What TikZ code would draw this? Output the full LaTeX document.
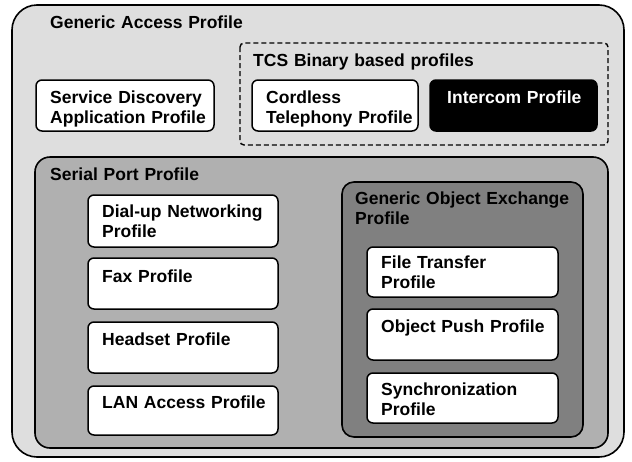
\documentclass[tikz,border=0pt]{standalone}
\usepackage{fontspec}
\setmainfont{Liberation Sans}
\begin{document}
\begin{tikzpicture}[x=1pt, y=-1pt,
    lbl/.style={anchor=base west, inner sep=0pt, text width=230pt, align=left,
      font=\fontsize{17.5}{20}\selectfont\bfseries},
    group/.style={draw, line width=1.6pt, fill=#1},
    prof/.style={draw, line width=1.5pt, rounded corners=6pt, fill=white}]
  \useasboundingbox (0,0) rectangle (632,461);

  \draw [group=black!13, rounded corners=25pt] (12, 5) rectangle (624, 457);
  \node [lbl] (gap) at (50, 28) {Generic Access Profile};

  \draw [line width=1.4pt, dash pattern=on 5pt off 3pt, rounded corners=4pt] (240, 43) rectangle (608, 145);
  \node [lbl] (tcs) at (253, 66) {TCS Binary based profiles};

  \draw [prof] (36, 80) rectangle (214, 131);
  \node [lbl] (sdap) at (50, 103) {Service Discovery\\Application Profile};
  \draw [prof] (252, 80) rectangle (418, 131);
  \node [lbl] (ctp) at (266, 103) {Cordless\\Telephony Profile};
  \draw [prof, fill=black] (430, 80) rectangle (597, 131);
  \node [lbl, text=white] (icp) at (447, 103) {Intercom Profile};

  \draw [group=black!31, rounded corners=15pt] (35, 157) rectangle (608, 448);
  \node [lbl] (spp) at (50, 180) {Serial Port Profile};

  \draw [prof] (88, 195) rectangle (278, 247);
  \node [lbl] (dun) at (102, 217) {Dial-up Networking\\Profile};
  \draw [prof] (88, 258) rectangle (278, 309);
  \node [lbl] (fax) at (102, 282) {Fax Profile};
  \draw [prof] (88, 322) rectangle (278, 373);
  \node [lbl] (hsp) at (102, 345) {Headset Profile};
  \draw [prof] (88, 386) rectangle (278, 435);
  \node [lbl] (lap) at (102, 408) {LAN Access Profile};

  \draw [group=black!50, rounded corners=12pt] (342, 182) rectangle (583, 437);
  \node [lbl] (goep) at (355, 204) {Generic Object Exchange\\Profile};

  \draw [prof] (367, 247) rectangle (558, 297);
  \node [lbl] (ftp) at (381, 268) {File Transfer\\Profile};
  \draw [prof] (367, 309) rectangle (558, 360);
  \node [lbl] (opp) at (381, 332) {Object Push Profile};
  \draw [prof] (367, 373) rectangle (558, 423);
  \node [lbl] (sync) at (381, 395) {Synchronization\\Profile};
\end{tikzpicture}
\end{document}
